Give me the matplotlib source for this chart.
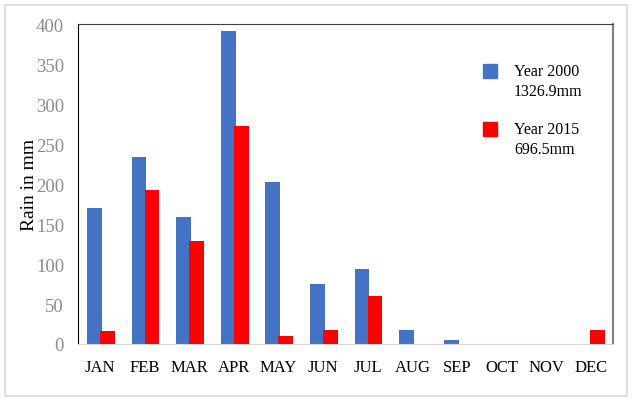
import numpy as np
import matplotlib.pyplot as plt
from matplotlib.patches import Rectangle

# monthly rain
months = ['JAN', 'FEB', 'MAR', 'APR', 'MAY', 'JUN', 'JUL', 'AUG', 'SEP', 'OCT', 'NOV', 'DEC']
rain_2000 = [170, 234, 159, 391, 203, 75, 94, 18, 5, 0, 0, 0]
rain_2015 = [16, 193, 129, 272, 10, 18, 60, 0, 0, 0, 0, 17]
legend_labels = ['Year 2000\n1326.9mm', 'Year 2015\n696.5mm']
yticks = [0, 50, 100, 150, 200, 250, 300, 350, 400]

blue = '#4472C4'
red = '#FF0000'

plt.rcParams['font.family'] = ['Liberation Serif', 'DejaVu Serif']

fig = plt.figure(figsize=(6.32, 4.02), dpi=100)
fig.patches.append(Rectangle((5/632, 5/402), 622/632, 391/402, transform=fig.transFigure,
                             fill=False, edgecolor='#d9d9d9', lw=1.2))

ax = fig.add_axes([78/632, 57/402, 535/632, 320/402])
x = np.arange(len(months))
ax.bar(x - 0.13, rain_2000, width=0.33, color=blue, zorder=2)
ax.bar(x + 0.16, rain_2015, width=0.33, color=red, zorder=3)

ax.set_xlim(-0.5, len(months) - 0.5)
ax.set_ylim(0, 400)
ax.set_xticks(x)
ax.set_xticklabels(months, fontsize=12)
ax.set_yticks(yticks)
ax.set_yticklabels([str(v) for v in yticks], fontsize=13.5, color='#8c8c8c')
ax.tick_params(axis='both', length=0)
ax.tick_params(axis='x', pad=11)
ax.tick_params(axis='y', pad=10)
ax.set_ylabel('Rain in mm', fontsize=14)
ax.yaxis.set_label_coords(-0.075, 0.5)

ax.spines['left'].set_color('black')
ax.spines['top'].set_color('#404040')
ax.spines['right'].set_color('#808080')
ax.spines['right'].set_linewidth(1.5)
ax.spines['bottom'].set_color('#d9d9d9')

# legend drawn by hand: square marker next to the first text line
for col, lab, ym in [(blue, legend_labels[0], 0.853), (red, legend_labels[1], 0.672)]:
    ax.plot([0.770], [ym], marker='s', ms=10, color=col, ls='', transform=ax.transAxes,
            clip_on=False)
    ax.text(0.815, ym + 0.025, lab, transform=ax.transAxes, fontsize=11.5,
            va='top', ha='left', linespacing=1.3)

fig.savefig('out.png', dpi=100)
